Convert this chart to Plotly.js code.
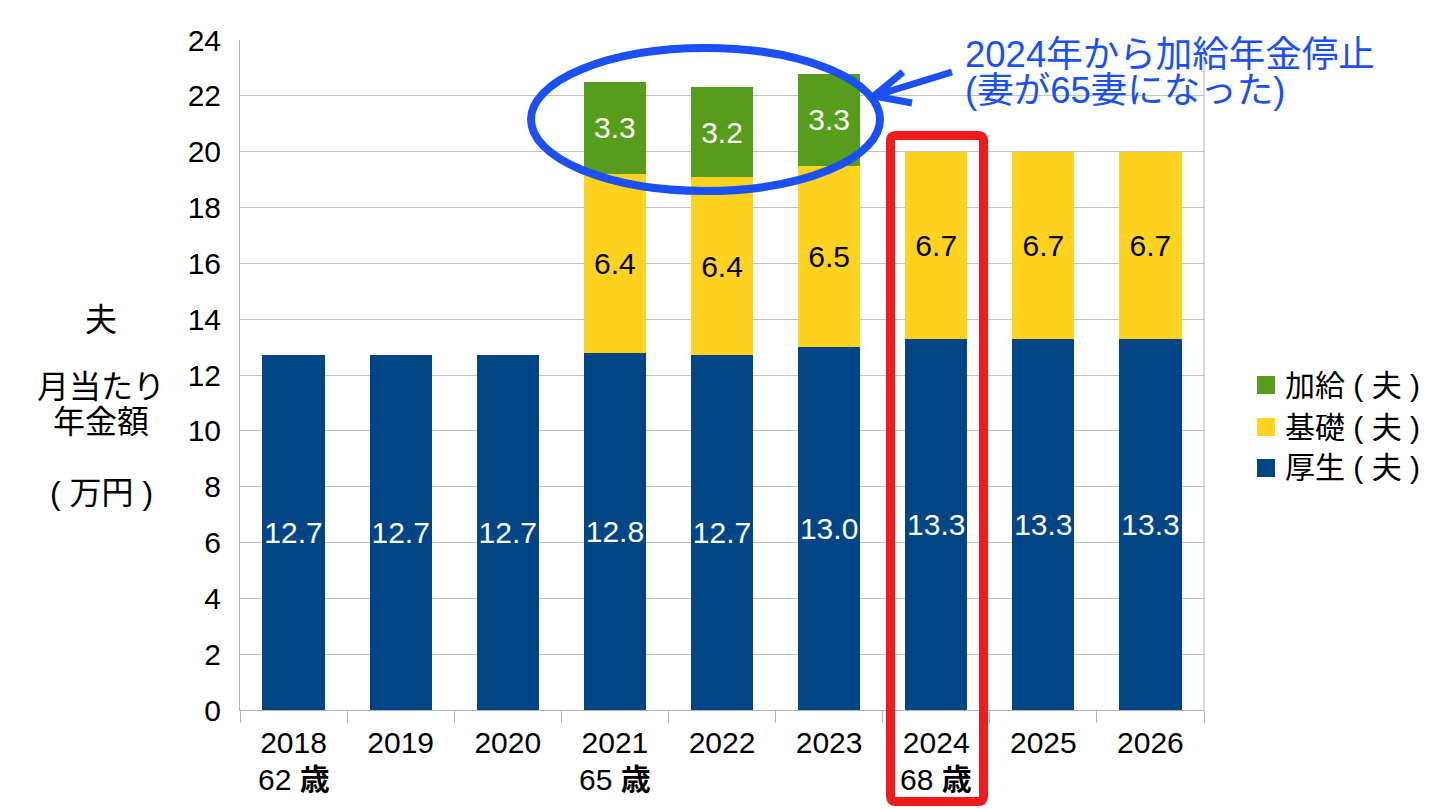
<!DOCTYPE html>
<html>
<head>
<meta charset="utf-8">
<script src="https://cdn.plot.ly/plotly-3.0.1.min.js"></script>
<style>html,body{margin:0;padding:0;background:#fff;}#chart{width:1439px;height:809px;}</style>
</head>
<body>
<div id="chart"></div>
<script>
// ---- data ----
const years = ['2018','2019','2020','2021','2022','2023','2024','2025','2026'];
const ages = ['62 <b>歳</b>','','','65 <b>歳</b>','','','68 <b>歳</b>','',''];
const kosei = [12.7,12.7,12.7,12.8,12.7,13.0,13.3,13.3,13.3];
const kiso = [null,null,null,6.4,6.4,6.5,6.7,6.7,6.7];
const kakyu = [null,null,null,3.3,3.2,3.3,null,null,null];
const seriesNames = ['厚生 ( 夫 )','基礎 ( 夫 )','加給 ( 夫 )'];
const seriesColors = ['#004586','#ffd320','#579d1c'];
const labelColors = ['#ffffff','#000000','#ffffff'];
const yTitleLines = ['夫','月当たり','年金額','( 万円 )'];
const noteLines = ['2024年から加給年金停止','(妻が65妻になった)'];

// ---- geometry helpers (pixel -> paper) ----
const W = 1439, H = 809;
const L = 240, R = 235, T = 40, B = 99;
const PW = W - L - R, PH = H - T - B;
const px = x => (x - L) / PW;
const py = y => (H - B - y) / PH;

const FONT = 'Liberation Sans, Noto Sans CJK JP, sans-serif';
const BLUE = '#1a50f5';
const RED = '#f21a1a';

const seriesVals = [kosei, kiso, kakyu];
const traces = seriesVals.map((vals, i) => ({
  type: 'bar',
  name: seriesNames[i],
  x: years,
  y: vals,
  marker: {color: seriesColors[i], line: {width: 0}},
  text: vals.map(v => v == null ? '' : v.toFixed(1)),
  textposition: 'inside',
  insidetextanchor: 'middle',
  textangle: 0,
  constraintext: 'none',
  textfont: {family: FONT, size: 30, color: labelColors[i]},
  hoverinfo: 'skip',
  showlegend: false
}));

const annotations = [];
// y-axis title lines
const yTitleY = [320, 387, 422, 493];
yTitleLines.forEach((t, i) => annotations.push({
  text: t, xref: 'paper', yref: 'paper', x: px(101), y: py(yTitleY[i]),
  xanchor: 'center', yanchor: 'middle', showarrow: false,
  font: {family: FONT, size: 32, color: '#000'}
}));
// ages under year labels (x given as category index)
ages.forEach((a, i) => { if (a) annotations.push({
  text: a, xref: 'x', yref: 'paper', x: i, y: py(779),
  xanchor: 'center', yanchor: 'middle', showarrow: false,
  font: {family: FONT, size: 30, color: '#000'}
}); });
// legend (manual)
const legRowY = [385, 427, 468];
[2, 1, 0].forEach((si, r) => annotations.push({
  text: seriesNames[si], xref: 'paper', yref: 'paper', x: px(1283), y: py(legRowY[r]),
  xanchor: 'left', yanchor: 'middle', showarrow: false,
  font: {family: FONT, size: 30, color: '#000'}
}));
// note text
const noteY = [54, 90];
noteLines.forEach((t, i) => annotations.push({
  text: t, xref: 'paper', yref: 'paper', x: px(963), y: py(noteY[i]),
  xanchor: 'left', yanchor: 'middle', showarrow: false,
  font: {family: FONT, size: 36.5, color: BLUE}
}));

const shapes = [];
// right border line
shapes.push({type: 'line', xref: 'paper', yref: 'paper', x0: 1, x1: 1, y0: 0, y1: 1,
  line: {color: '#b3b3b3', width: 1}});
// legend squares
[2, 1, 0].forEach((si, r) => shapes.push({
  type: 'rect', xref: 'paper', yref: 'paper',
  x0: px(1257), x1: px(1275), y0: py(legRowY[r] + 9), y1: py(legRowY[r] - 9),
  fillcolor: seriesColors[si], line: {width: 0}
}));
// ellipse
shapes.push({type: 'circle', xref: 'paper', yref: 'paper',
  x0: px(531), x1: px(880), y0: py(191), y1: py(48),
  line: {color: BLUE, width: 8}, fillcolor: 'rgba(0,0,0,0)'});
// arrow
const P = (x, y) => px(x).toFixed(5) + ',' + py(y).toFixed(5);
shapes.push({type: 'path', xref: 'paper', yref: 'paper',
  path: 'M' + P(952, 72) + ' L' + P(874, 96) + ' M' + P(903, 72) + ' L' + P(874, 96) + ' L' + P(912, 103),
  line: {color: BLUE, width: 7}});
// red rounded rectangle
const rx0 = 890.5, rx1 = 983.5, ry0 = 135.5, ry1 = 801.5, rr = 5;
shapes.push({type: 'path', xref: 'paper', yref: 'paper',
  path: 'M' + P(rx0 + rr, ry0) + ' L' + P(rx1 - rr, ry0) + ' Q' + P(rx1, ry0) + ' ' + P(rx1, ry0 + rr) +
        ' L' + P(rx1, ry1 - rr) + ' Q' + P(rx1, ry1) + ' ' + P(rx1 - rr, ry1) +
        ' L' + P(rx0 + rr, ry1) + ' Q' + P(rx0, ry1) + ' ' + P(rx0, ry1 - rr) +
        ' L' + P(rx0, ry0 + rr) + ' Q' + P(rx0, ry0) + ' ' + P(rx0 + rr, ry0) + ' Z',
  line: {color: RED, width: 9}, fillcolor: 'rgba(0,0,0,0)'});

const layout = {
  width: W, height: H,
  margin: {l: L, r: R, t: T, b: B, pad: 0},
  paper_bgcolor: '#fff', plot_bgcolor: '#fff',
  barmode: 'stack', bargap: 0.42,
  showlegend: false,
  font: {family: FONT, color: '#000'},
  xaxis: {
    type: 'category', categoryorder: 'array', categoryarray: years,
    range: [-0.5, years.length - 0.5], autorange: false,
    showline: true, linecolor: '#b3b3b3', linewidth: 1,
    ticks: 'outside', tickson: 'boundaries', ticklen: 12, tickcolor: '#b3b3b3', tickwidth: 1,
    tickfont: {family: FONT, size: 30, color: '#000'},
    tickangle: 0,
    ticklabelstandoff: 6,
    showgrid: false, zeroline: false, fixedrange: true
  },
  yaxis: {
    range: [0, 24], autorange: false, dtick: 2, tick0: 0,
    showline: true, linecolor: '#b3b3b3', linewidth: 1,
    gridcolor: '#c4c4c4', gridwidth: 1,
    ticks: '', ticklabelstandoff: 12,
    tickfont: {family: FONT, size: 30, color: '#000'},
    zeroline: false, fixedrange: true
  },
  annotations: annotations,
  shapes: shapes
};

Plotly.newPlot('chart', traces, layout, {staticPlot: true, displayModeBar: false});
</script>
</body>
</html>
